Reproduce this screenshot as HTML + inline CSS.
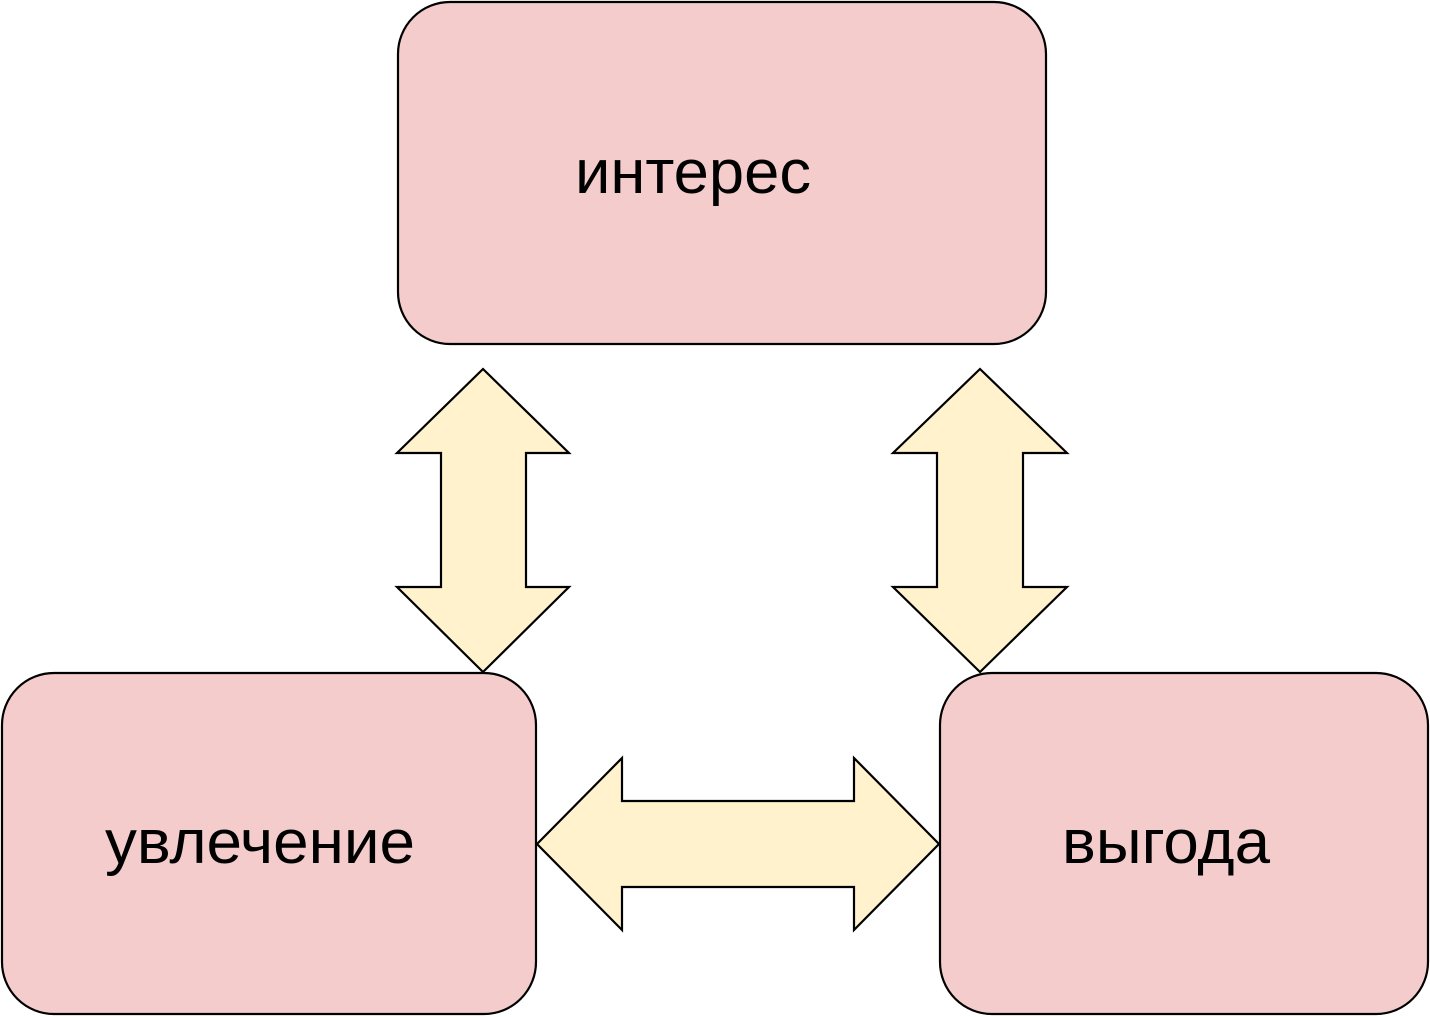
<!DOCTYPE html>
<html>
<head>
<meta charset="utf-8">
<style>
  html, body { margin: 0; padding: 0; background: #ffffff; }
  svg { display: block; }
  text { font-family: "Liberation Sans", "DejaVu Sans", sans-serif; fill: #000; }
</style>
</head>
<body>
<svg width="1430" height="1017" viewBox="0 0 1430 1017" xmlns="http://www.w3.org/2000/svg">
  <!-- Top box -->
  <rect x="398" y="2" width="648" height="342" rx="52" ry="52" fill="#f4cccc" stroke="#000" stroke-width="2.2"/>
  <!-- Bottom left box -->
  <rect x="2" y="673" width="534" height="341" rx="52" ry="52" fill="#f4cccc" stroke="#000" stroke-width="2.2"/>
  <!-- Bottom right box -->
  <rect x="940" y="673" width="488" height="341" rx="52" ry="52" fill="#f4cccc" stroke="#000" stroke-width="2.2"/>

  <!-- Left vertical double arrow -->
  <polygon points="483,369 569,453 526,453 526,587 569,587 483,672 397,587 441,587 441,453 397,453"
           fill="#fff2cc" stroke="#000" stroke-width="2.2" stroke-linejoin="miter"/>
  <!-- Right vertical double arrow -->
  <polygon points="980,369 1067,453 1023,453 1023,587 1067,587 980,672 893,587 937,587 937,453 893,453"
           fill="#fff2cc" stroke="#000" stroke-width="2.2" stroke-linejoin="miter"/>
  <!-- Horizontal double arrow -->
  <polygon points="537,844 622,758 622,801 854,801 854,758 939,844 854,930 854,887 622,887 622,930"
           fill="#fff2cc" stroke="#000" stroke-width="2.2" stroke-linejoin="miter"/>

  <!-- Labels -->
  <text x="575" y="193" font-size="62" textLength="236" lengthAdjust="spacingAndGlyphs">интерес</text>
  <text x="105" y="863" font-size="62" textLength="310" lengthAdjust="spacingAndGlyphs">увлечение</text>
  <text x="1062" y="863" font-size="62" textLength="208" lengthAdjust="spacingAndGlyphs">выгода</text>
</svg>
</body>
</html>
